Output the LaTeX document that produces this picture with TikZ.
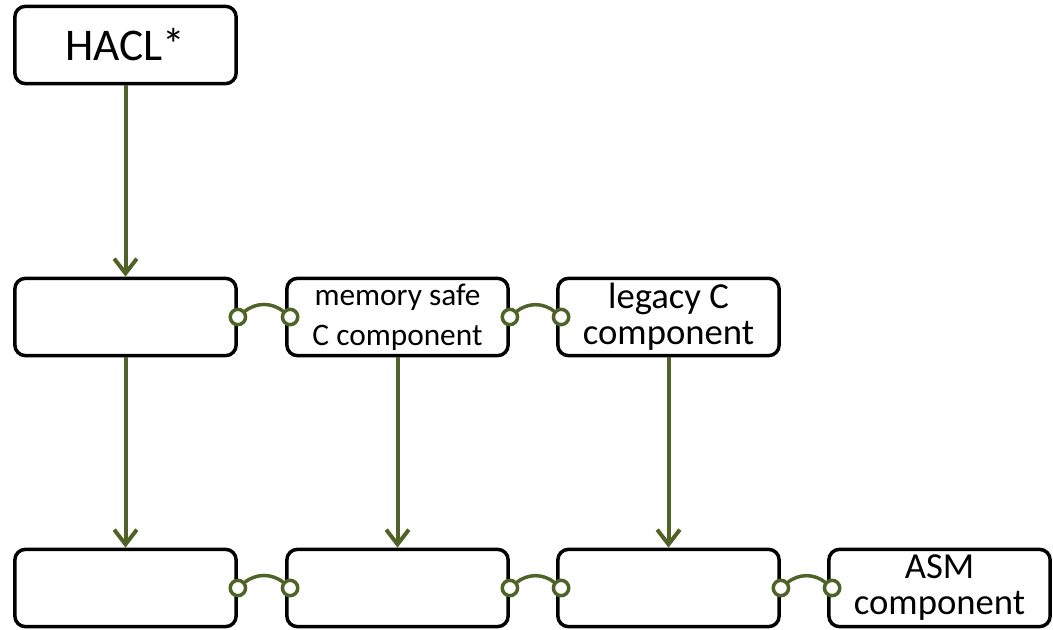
\documentclass[tikz,border=0pt]{standalone}
\usepackage{fontspec}
\setmainfont{Carlito}
\usetikzlibrary{arrows.meta}

\definecolor{linkgreen}{RGB}{79,98,40}

\tikzset{
  comp/.style={draw, line width=2.6pt, rounded corners=8pt, minimum width=166pt,
                minimum height=58pt, inner sep=1pt, align=center, font=#1},
  comp/.default={\fontsize{27.5}{27}\selectfont}, % default text size in a box
  plug/.style={circle, draw=linkgreen, line width=2.6pt, fill=white,
                minimum size=11.5pt, inner sep=0pt, outer sep=0pt},
  link/.style={draw=linkgreen, line width=2.6pt},
  flow/.style={draw=linkgreen, line width=3pt,
                -{Straight Barb[length=11pt, width=17pt]}},
}
\def\rowb{317}
\def\rowc{588}

\begin{document}
\begin{tikzpicture}[x=0.75pt, y=-0.75pt]
  \useasboundingbox (0,0) rectangle (1053,630);
  % top
  \node[comp={\fontsize{34}{36}\selectfont}] (hacl) at (125.5,45) {HACL*};
  % middle row
  \node[comp] (c1) at (125.5,\rowb) {};
  \node[comp={\fontsize{23.5}{30}\selectfont}] (c2) at (397.5,\rowb) {memory safe\\C component};
  \node[comp] (c3) at (668.5,\rowb) {legacy C\\component};
  % bottom row
  \node[comp] (a1) at (125.5,\rowc) {};
  \node[comp] (a2) at (397.5,\rowc) {};
  \node[comp] (a3) at (668.5,\rowc) {};
  \node[comp] (a4) at (939.5,\rowc) {ASM\\component};
  % arrows
  \draw[flow] (hacl) -- (c1);
  \draw[flow] (c1) -- (a1);
  \draw[flow] (c2) -- (a2);
  \draw[flow] (c3) -- (a3);
  % plugs between neighbours
  \foreach \l/\r [count=\i] in {c1/c2,c2/c3,a1/a2,a2/a3,a3/a4} {
      \node[plug] (pl\i) at (\l.east) {};
      \node[plug] (pr\i) at ([xshift=3.75pt]\r.west) {};
      \draw[link] (pl\i) to[bend left=40] (pr\i);
  };
\end{tikzpicture}
\end{document}
